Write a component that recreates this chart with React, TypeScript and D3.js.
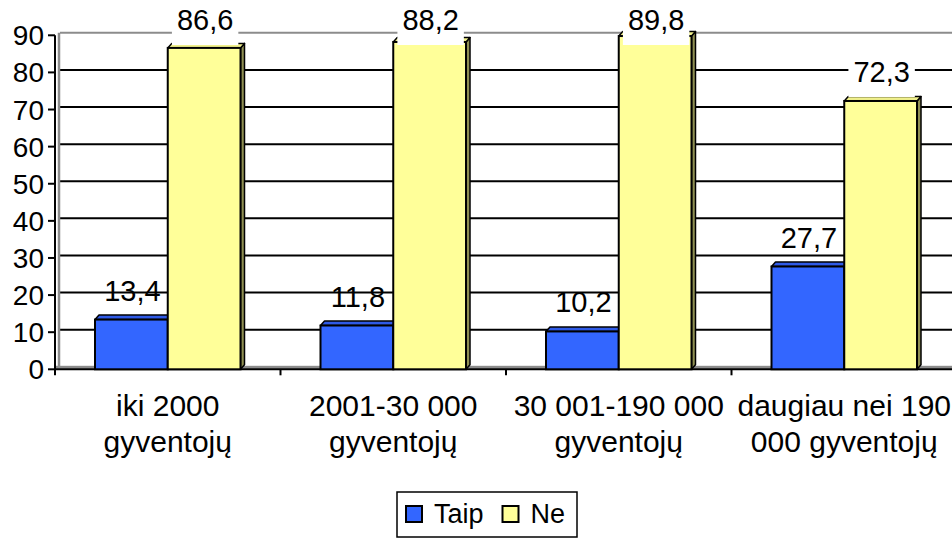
import React from "react";
import * as d3 from "d3";

const categories: string[][] = [
  ["iki 2000", "gyventojų"],
  ["2001-30 000", "gyventojų"],
  ["30 001-190 000", "gyventojų"],
  ["daugiau nei 190", "000 gyventojų"],
];
const seriesNames = ["Taip", "Ne"];
const taip = [13.4, 11.8, 10.2, 27.7];
const ne = [86.6, 88.2, 89.8, 72.3];
const yTicks = [0, 10, 20, 30, 40, 50, 60, 70, 80, 90];

const W = 952;
const H = 539;
const FONT = "'Liberation Sans', Arial, sans-serif";
const colors = { Taip: "#3366ff", Ne: "#ffff99" };
const tops = { Taip: "#2f5ae6", Ne: "#f0f08c" };
const sides = { Taip: "#1f3d99", Ne: "#8f8f52" };

const fmt = (v: number) => d3.format(".1f")(v).replace(".", ",");
const textW = (s: string, fs: number) =>
  s.split("").reduce((a, c) => a + (c === "," ? 0.278 : 0.556), 0) * fs;

export default function App() {
  const x0 = d3.scaleBand<number>().domain(d3.range(categories.length)).range([55, 957]).paddingInner(0).paddingOuter(0);
  const x1 = d3.scaleBand<string>().domain(seriesNames).range([40, x0.bandwidth() - 40]).padding(0);
  const y = d3.scaleLinear().domain([0, 90]).range([369.3, 35.3]);
  const DX = 4, DY = -4.5;
  const wallDX = 5, wallDY = -2.5;
  const data: Record<string, number[]> = { Taip: taip, Ne: ne };

  return (
    <svg width={W} height={H} style={{ position: "absolute", left: 0, top: 0, background: "#fff" }}>
      {/* back wall gridlines */}
      {yTicks.filter((t) => t > 0 && t < 90).map((t) => (
        <line key={"g" + t} x1={55 + wallDX} x2={W} y1={y(t) + wallDY} y2={y(t) + wallDY} stroke="#000" strokeWidth={2} />
      ))}
      <line x1={55 + wallDX} x2={W} y1={y(90) + wallDY} y2={y(90) + wallDY} stroke="#8c8c8c" strokeWidth={2} />
      <line x1={55 + wallDX - 1} x2={55 + wallDX - 1} y1={y(90) + wallDY} y2={y(0) + wallDY} stroke="#8c8c8c" strokeWidth={2.5} />
      {/* floor */}
      <rect x={55} y={y(0) + wallDY - 1} width={W - 55} height={3} fill="#8c8c8c" />
      {/* axes */}
      <line x1={55} x2={W} y1={y(0)} y2={y(0)} stroke="#000" strokeWidth={2} />
      <line x1={55} x2={55} y1={y(90)} y2={y(0)} stroke="#000" strokeWidth={2} />
      {yTicks.map((t) => (
        <g key={"yt" + t}>
          <line x1={48} x2={55} y1={y(t)} y2={y(t)} stroke="#000" strokeWidth={2} />
          <text x={44} y={y(t) + 10} textAnchor="end" fontFamily={FONT} fontSize={28} fill="#000">{t}</text>
        </g>
      ))}
      {d3.range(categories.length + 1).map((i) => (
        <line key={"xt" + i} x1={55 + i * x0.bandwidth()} x2={55 + i * x0.bandwidth()} y1={y(0)} y2={y(0) + 6} stroke="#000" strokeWidth={2} />
      ))}
      {/* bars */}
      {categories.map((c, i) => (
        <g key={"grp" + i}>
          {seriesNames.map((s) => {
            const v = data[s][i];
            const bx = (x0(i) as number) + (x1(s) as number);
            const bw = x1.bandwidth();
            const by = y(v);
            const by0 = y(0);
            const k = s as "Taip" | "Ne";
            return (
              <g key={s}>
                <polygon points={`${bx + bw},${by} ${bx + bw + DX},${by + DY} ${bx + bw + DX},${by0 + DY} ${bx + bw},${by0}`} fill={sides[k]} stroke="#000" strokeWidth={1.5} strokeLinejoin="round" />
                <polygon points={`${bx},${by} ${bx + DX},${by + DY} ${bx + bw + DX},${by + DY} ${bx + bw},${by}`} fill={tops[k]} stroke="#000" strokeWidth={1.5} strokeLinejoin="round" />
                <rect x={bx} y={by} width={bw} height={by0 - by} fill={colors[k]} stroke="#000" strokeWidth={2} />
              </g>
            );
          })}
        </g>
      ))}
      {/* data labels */}
      {categories.map((c, i) => (
        <g key={"lab" + i}>
          {seriesNames.map((s) => {
            const v = data[s][i];
            const cx = (x0(i) as number) + (x1(s) as number) + x1.bandwidth() / 2 + 1;
            const base = Math.max(y(v) - 19, 30);
            const label = fmt(v);
            const tw = textW(label, 29);
            return (
              <g key={s}>
                {s === "Ne" && (
                  <rect x={cx - tw / 2 - 5} y={base - 42} width={tw + 10} height={57} fill="#fff" />
                )}
                <text x={cx} y={base} textAnchor="middle" fontFamily={FONT} fontSize={29} fill="#000">{label}</text>
              </g>
            );
          })}
        </g>
      ))}
      {/* category labels */}
      {categories.map((lines, i) => (
        <text key={"cl" + i} textAnchor="middle" fontFamily={FONT} fontSize={30} fill="#000">
          {lines.map((ln, j) => (
            <tspan key={j} x={(x0(i) as number) + x0.bandwidth() / 2} y={416 + j * 36}>{ln}</tspan>
          ))}
        </text>
      ))}
      {/* legend */}
      <rect x={397} y={492} width={180} height={45} fill="#fff" stroke="#000" strokeWidth={1.5} />
      {seriesNames.map((s, j) => {
        const lx = j === 0 ? 406 : 502.5;
        const k = s as "Taip" | "Ne";
        return (
          <g key={"lg" + s}>
            <rect x={lx} y={506} width={16} height={16} fill={colors[k]} stroke="#000" strokeWidth={2} />
            <text x={lx + 28} y={523} fontFamily={FONT} fontSize={27} fill="#000">{s}</text>
          </g>
        );
      })}
    </svg>
  );
}
